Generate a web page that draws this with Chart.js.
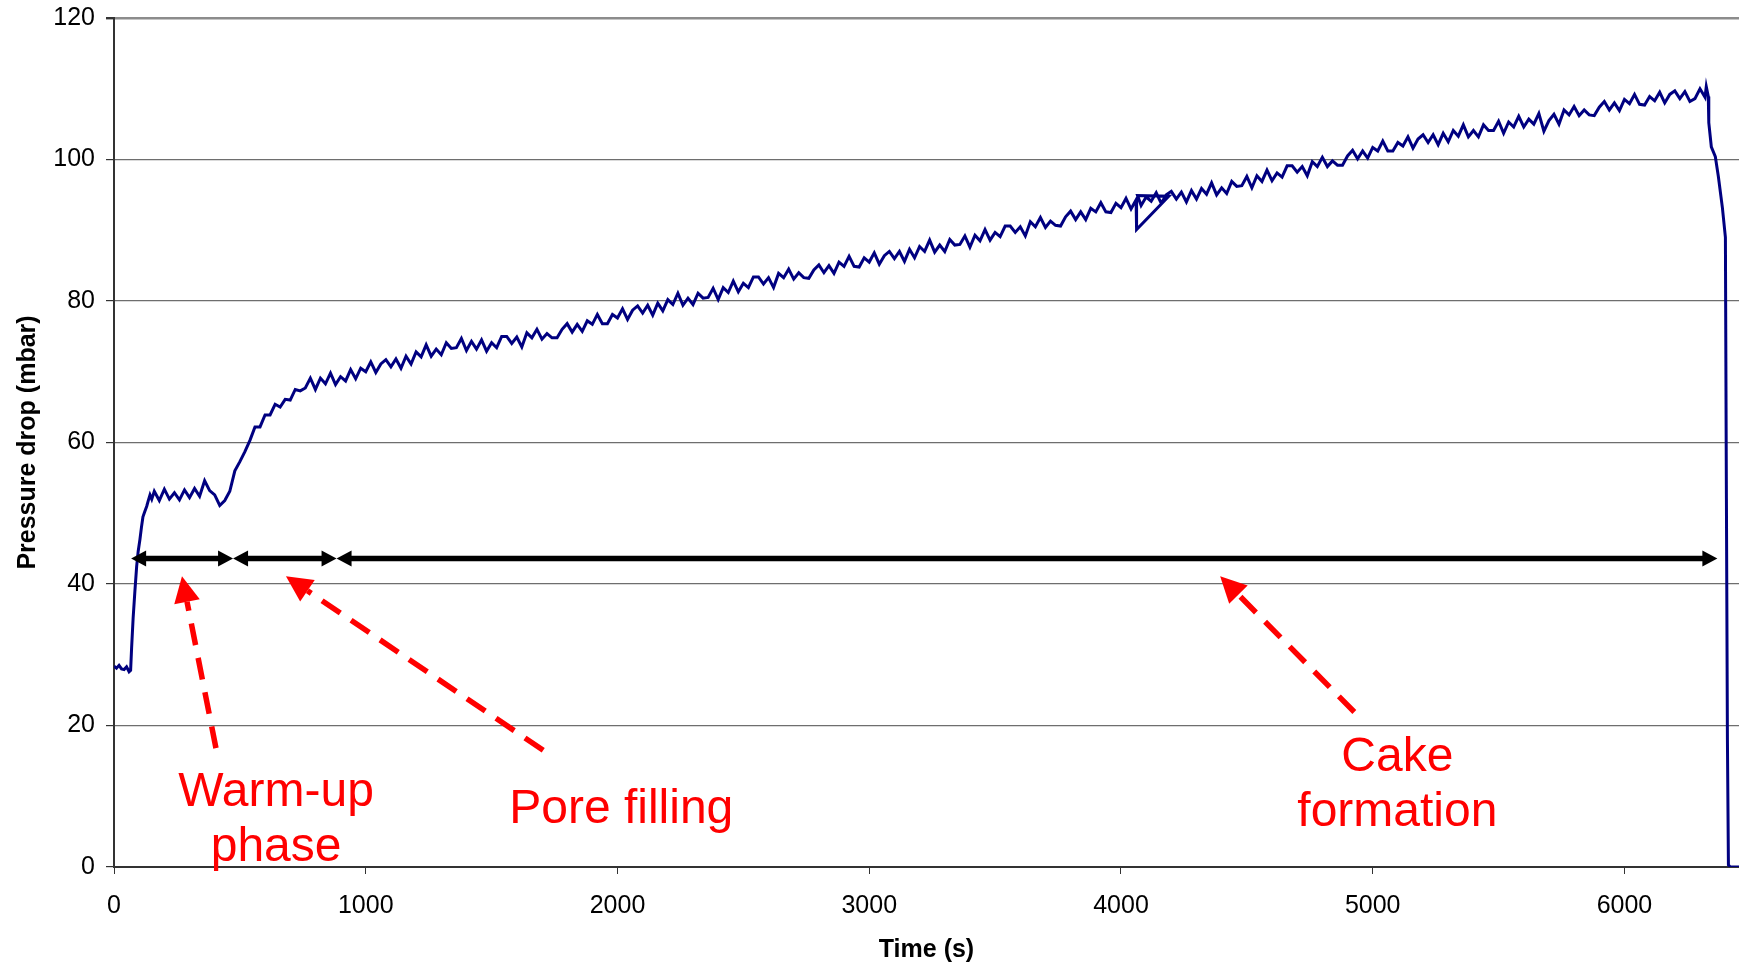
<!DOCTYPE html>
<html>
<head>
<meta charset="utf-8">
<script src="https://cdn.jsdelivr.net/npm/chart.js@4.4.1/dist/chart.umd.min.js"></script>
<style>
  html, body { margin: 0; padding: 0; background: #fff; }
</style>
</head>
<body>
<canvas id="myChart" width="1739" height="965"></canvas>
<script>
// time (s)
const times = [
  0, 10, 20, 30, 40, 50, 60, 66, 70, 76, 83, 90, 96, 103, 109, 115, 122, 130, 137, 143, 150,
  160, 180, 200, 220, 240, 260, 280, 300, 320, 340,
  360, 380, 400, 420, 440, 460, 480, 500, 520, 540,
  560, 580, 600, 620, 640, 660, 680, 700, 720, 740,
  760, 780, 800, 820, 840, 860, 880, 900, 920, 940,
  960, 980, 1000, 1020, 1040, 1060, 1080, 1100, 1120, 1140,
  1160, 1180, 1200, 1220, 1240, 1260, 1280, 1300, 1320, 1340,
  1360, 1380, 1400, 1420, 1440, 1460, 1480, 1500, 1520, 1540,
  1560, 1580, 1600, 1620, 1640, 1660, 1680, 1700, 1720, 1740,
  1760, 1780, 1800, 1820, 1840, 1860, 1880, 1900, 1920, 1940,
  1960, 1980, 2000, 2020, 2040, 2060, 2080, 2100, 2120, 2140,
  2160, 2180, 2200, 2220, 2240, 2260, 2280, 2300, 2320, 2340,
  2360, 2380, 2400, 2420, 2440, 2460, 2480, 2500, 2520, 2540,
  2560, 2580, 2600, 2620, 2640, 2660, 2680, 2700, 2720, 2740,
  2760, 2780, 2800, 2820, 2840, 2860, 2880, 2900, 2920, 2940,
  2960, 2980, 3000, 3020, 3040, 3060, 3080, 3100, 3120, 3140,
  3160, 3180, 3200, 3220, 3240, 3260, 3280, 3300, 3320, 3340,
  3360, 3380, 3400, 3420, 3440, 3460, 3480, 3500, 3520, 3540,
  3560, 3580, 3600, 3620, 3640, 3660, 3680, 3700, 3720, 3740,
  3760, 3780, 3800, 3820, 3840, 3860, 3880, 3900, 3920, 3940,
  3960, 3980, 4000, 4020, 4040, 4060,
  4062, 4190, 4066,
  4080, 4100, 4120, 4140, 4160, 4180, 4200, 4220, 4240, 4260,
  4280, 4300, 4320, 4340, 4360, 4380, 4400, 4420, 4440, 4460,
  4480, 4500, 4520, 4540, 4560, 4580, 4600, 4620, 4640, 4660,
  4680, 4700, 4720, 4740, 4760, 4780, 4800, 4820, 4840, 4860,
  4880, 4900, 4920, 4940, 4960, 4980, 5000, 5020, 5040, 5060,
  5080, 5100, 5120, 5140, 5160, 5180, 5200, 5220, 5240, 5260,
  5280, 5300, 5320, 5340, 5360, 5380, 5400, 5420, 5440, 5460,
  5480, 5500, 5520, 5540, 5560, 5580, 5600, 5620, 5640, 5660,
  5680, 5700, 5720, 5740, 5760, 5780, 5800, 5820, 5840, 5860,
  5880, 5900, 5920, 5940, 5960, 5980, 6000, 6020, 6040, 6060,
  6080, 6100, 6120, 6140, 6160, 6180, 6200, 6220, 6240, 6260,
  6280, 6300, 6320,
  6325, 6333, 6335, 6345, 6361, 6373, 6389, 6401, 6405, 6409, 6413, 6420, 6455
];

// pressure drop (mbar)
const pressure = [
  28.4, 28.1, 28.5, 28.0, 27.9, 28.3, 27.6, 27.8, 31.0, 35.2, 39.0, 42.5, 44.6, 46.3, 48.0, 49.5, 50.2, 51.0, 51.9, 52.6, 52.0,
  53.1, 51.8, 53.4, 52.0, 52.9, 51.9, 53.3, 52.2, 53.5, 52.4,
  54.6, 53.2, 52.6, 51.1, 51.8, 53.1, 56.0, 57.3, 58.7, 60.3,
  62.2, 62.2, 63.9, 63.9, 65.4, 65.0, 66.1, 66.0, 67.5, 67.3,
  67.7, 69.1, 67.5, 69.1, 68.3, 69.8, 68.2, 69.3, 68.7, 70.3,
  69.0, 70.5, 70.0, 71.4, 69.9, 71.1, 71.7, 70.7, 71.8, 70.5,
  72.2, 71.1, 72.8, 72.1, 73.8, 72.2, 73.2, 72.4, 74.1, 73.3,
  73.4, 74.7, 73.0, 74.3, 73.2, 74.5, 72.9, 74.1, 73.4, 75.0,
  75.0, 74.0, 74.9, 73.5, 75.5, 74.8, 76.0, 74.6, 75.4, 74.8,
  74.8, 76.0, 76.8, 75.6, 76.7, 75.7, 77.2, 76.7, 78.1, 76.8,
  76.8, 78.1, 77.6, 78.9, 77.4, 78.7, 79.3, 78.3, 79.4, 78.0,
  79.7, 78.6, 80.2, 79.5, 81.1, 79.4, 80.4, 79.5, 81.1, 80.4,
  80.5, 81.8, 80.2, 81.9, 81.2, 82.8, 81.3, 82.5, 81.9, 83.4,
  83.4, 82.4, 83.3, 81.9, 83.9, 83.3, 84.5, 83.1, 84.0, 83.3,
  83.2, 84.4, 85.1, 84.0, 85.0, 83.9, 85.5, 84.9, 86.3, 84.9,
  84.8, 86.1, 85.5, 86.8, 85.2, 86.4, 87.0, 86.0, 87.0, 85.6,
  87.3, 86.1, 87.7, 87.0, 88.6, 86.9, 87.9, 87.0, 88.7, 87.9,
  88.0, 89.2, 87.6, 89.3, 88.5, 90.1, 88.6, 89.7, 89.1, 90.6,
  90.6, 89.7, 90.5, 89.2, 91.2, 90.5, 91.8, 90.4, 91.3, 90.7,
  90.6, 91.9, 92.7, 91.5, 92.6, 91.5, 93.1, 92.6, 93.9, 92.6,
  92.5, 93.8, 93.2, 94.5, 93.0, 94.3,
  90.1, 94.8, 94.9,
  93.5, 94.7, 94.1, 95.3, 93.8, 95.0, 95.5, 94.4, 95.4, 94.0,
  95.6, 94.4, 95.9, 95.1, 96.7, 95.0, 96.0, 95.2, 96.9, 96.2,
  96.3, 97.6, 96.0, 97.7, 96.9, 98.5, 97.0, 98.1, 97.5, 99.1,
  99.1, 98.2, 99.0, 97.7, 99.7, 99.0, 100.3, 99.0, 99.8, 99.2,
  99.2, 100.5, 101.3, 100.1, 101.2, 100.2, 101.7, 101.2, 102.6, 101.2,
  101.2, 102.4, 101.9, 103.2, 101.6, 102.9, 103.5, 102.4, 103.5, 102.1,
  103.7, 102.5, 104.1, 103.3, 104.9, 103.2, 104.1, 103.2, 104.9, 104.1,
  104.1, 105.4, 103.7, 105.3, 104.6, 106.1, 104.6, 105.7, 105.0, 106.5,
  104.0, 105.5, 106.4, 105.0, 107.0, 106.3, 107.5, 106.2, 107.0, 106.3,
  106.2, 107.4, 108.2, 107.0, 108.0, 106.9, 108.5, 107.9, 109.2, 107.8,
  107.7, 108.9, 108.3, 109.5, 108.0, 109.2, 109.7, 108.6, 109.6, 108.2,
  108.6, 110.0, 108.8,
  110.3, 108.9, 105.2, 101.8, 100.4, 97.6, 93.2, 89.0, 52.0, 18.0, 0.3, 0, 0
];

const xTicks = [0, 1000, 2000, 3000, 4000, 5000, 6000];
const yTicks = [0, 20, 40, 60, 80, 100, 120];

// phases: boundaries of the black double arrows (s) and their height (mbar)
const phaseBounds = [68, 473, 884, 6369];
const phaseLevel = 43.6;

// red call-outs: text, where the text sits, dashed pointer tail -> tip
const calloutText = [['Warm-up', 'phase'], ['Pore filling'], ['Cake', 'formation']];
const calloutAt = [[644, 8.6], [2015, 6.2], [5098, 13.6]];
const pointerTail = [[405, 16.8], [1705, 16.5], [4927, 21.9]];
const pointerTip = [[270, 41.1], [683, 41.1], [4394, 41.1]];

const points = times.map((t, i) => ({ x: t, y: pressure[i] }));

Chart.defaults.font.family = "'Liberation Sans', Arial, sans-serif";

function head(ctx, x1, y1, x2, y2, len, half) {
    const a = Math.atan2(y2 - y1, x2 - x1);
    const bx = x2 - len * Math.cos(a), by = y2 - len * Math.sin(a);
    ctx.beginPath();
    ctx.moveTo(x2, y2);
    ctx.lineTo(bx + half * Math.sin(a), by - half * Math.cos(a));
    ctx.lineTo(bx - half * Math.sin(a), by + half * Math.cos(a));
    ctx.closePath();
    ctx.fill();
}

const phasePlugin = {
    id: 'phases',
    afterDatasetsDraw(chart) {
        const ctx = chart.ctx;
        const sx = chart.scales.x, sy = chart.scales.y;
        ctx.save();

        // black double arrows
        const y = sy.getPixelForValue(phaseLevel);
        ctx.fillStyle = '#000';
        ctx.strokeStyle = '#000';
        ctx.lineWidth = 5.5;
        for (let i = 0; i < phaseBounds.length - 1; i++) {
            const a = sx.getPixelForValue(phaseBounds[i]);
            const b = sx.getPixelForValue(phaseBounds[i + 1]);
            ctx.beginPath();
            ctx.moveTo(a + 12, y);
            ctx.lineTo(b - 12, y);
            ctx.stroke();
            head(ctx, b, y, a, y, 15, 8);
            head(ctx, a, y, b, y, 15, 8);
        }

        // red dashed pointers
        ctx.fillStyle = '#ff0000';
        ctx.strokeStyle = '#ff0000';
        ctx.lineWidth = 5.5;
        pointerTail.forEach((p, i) => {
            const x1 = sx.getPixelForValue(p[0]), y1 = sy.getPixelForValue(p[1]);
            const x2 = sx.getPixelForValue(pointerTip[i][0]), y2 = sy.getPixelForValue(pointerTip[i][1]);
            const a = Math.atan2(y2 - y1, x2 - x1);
            ctx.setLineDash([22, 13]);
            ctx.beginPath();
            ctx.moveTo(x1, y1);
            ctx.lineTo(x2 - 26 * Math.cos(a), y2 - 26 * Math.sin(a));
            ctx.stroke();
            ctx.setLineDash([]);
            head(ctx, x1, y1, x2, y2, 26, 13);
        });

        // red labels
        ctx.font = "48px 'Liberation Sans', Arial, sans-serif";
        ctx.textAlign = 'center';
        ctx.textBaseline = 'alphabetic';
        calloutText.forEach((lines, i) => {
            const x = sx.getPixelForValue(calloutAt[i][0]);
            const y0 = sy.getPixelForValue(calloutAt[i][1]);
            lines.forEach((s, k) => ctx.fillText(s, x, y0 + k * 55));
        });
        ctx.restore();
    }
};

new Chart(document.getElementById('myChart'), {
    type: 'line',
    data: {
        datasets: [{
            label: 'Pressure drop',
            data: points,
            borderColor: '#000080',
            borderWidth: 3,
            pointRadius: 0,
            tension: 0,
            fill: false
        }]
    },
    options: {
        responsive: false,
        animation: false,
        layout: { padding: { top: 18, right: 0, bottom: 0, left: 0 } },
        plugins: {
            legend: { display: false },
            tooltip: { enabled: false }
        },
        scales: {
            x: {
                type: 'linear',
                min: 0,
                max: 6455,
                afterFit: s => { s.height = 98; },
                afterBuildTicks: s => { s.ticks = xTicks.map(v => ({ value: v })); },
                ticks: {
                    color: '#000',
                    font: { size: 25 },
                    padding: 17,
                    maxRotation: 0,
                    autoSkip: false,
                    callback: v => String(v)
                },
                grid: { drawOnChartArea: false, drawTicks: true, tickLength: 7, color: '#333' },
                border: { color: '#333', width: 2 },
                title: {
                    display: true,
                    text: 'Time (s)',
                    color: '#000',
                    font: { size: 25, weight: 'bold' },
                    padding: { top: 0, bottom: 0 }
                }
            },
            y: {
                min: 0,
                max: 120,
                afterFit: s => { s.width = 114; s.paddingTop = 0; s.paddingBottom = 0; },
                afterBuildTicks: s => { s.ticks = yTicks.map(v => ({ value: v })); },
                ticks: { color: '#000', font: { size: 25 }, padding: 11 },
                grid: {
                    color: c => (c.tick && c.tick.value === 120) ? '#8c8c8c' : '#6e6e6e',
                    lineWidth: c => (c.tick && c.tick.value === 120) ? 2.4 : 1.2,
                    tickColor: '#333',
                    tickLength: 8
                },
                border: { color: '#333', width: 2 },
                title: {
                    display: true,
                    text: 'Pressure drop (mbar)',
                    color: '#000',
                    font: { size: 25, weight: 'bold' },
                    padding: { top: 13, bottom: 0 }
                }
            }
        }
    },
    plugins: [phasePlugin]
});
</script>
</body>
</html>
